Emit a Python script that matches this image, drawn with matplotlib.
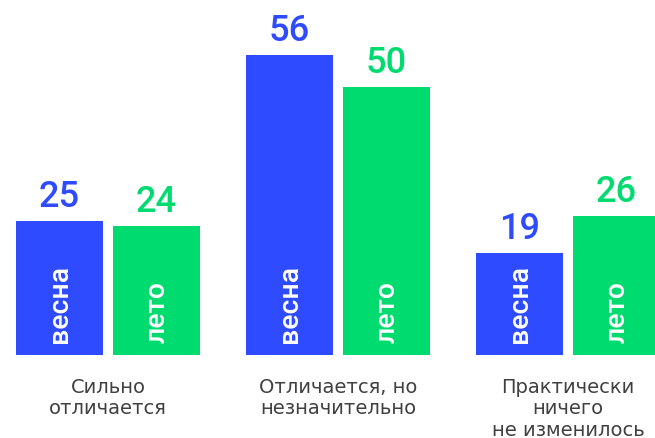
import matplotlib
matplotlib.use("Agg")
import matplotlib.pyplot as plt
import numpy as np

categories = ["Сильно\nотличается", "Отличается, но\nнезначительно", "Практически\nничего\nне изменилось"]
spring = [25, 56, 19]
summer = [24, 50, 26]
series_names = ["весна", "лето"]

BLUE = "#2E4BFF"
GREEN = "#00DB70"

W, H = 655, 439
fig = plt.figure(figsize=(W / 100, H / 100), dpi=100)

base_px = 356
ppu = 5.36
ymax = 66
ax_h = ymax * ppu
ax = fig.add_axes([0, (H - base_px) / H, 1, ax_h / H])
ax.set_ylim(0, ymax)
x0 = 108.0
gs = 230.0
ax.set_xlim(-x0 / gs, (W - x0) / gs)
ax.axis("off")

fam = ["Roboto", "DejaVu Sans"]
fam2 = ["DejaVu Sans"]
x = np.arange(len(categories))
bw = 87 / gs
off = 48.5 / gs

for vals, dx, col, name in [(spring, -off, BLUE, series_names[0]), (summer, off, GREEN, series_names[1])]:
    ax.bar(x + dx, vals, width=bw, color=col)
    for xi, v in zip(x + dx, vals):
        ax.annotate(str(v), (xi, v), xytext=(0, 15), textcoords="offset pixels",
                    ha="center", va="baseline", fontsize=26, color=col,
                    family=fam, fontweight="medium", annotation_clip=False)
        ax.annotate(name, (xi, 0), xytext=(0, 13), textcoords="offset pixels",
                    ha="center", va="bottom", rotation=90, fontsize=20.5,
                    color="white", family=fam, fontweight="medium")

for xi, c in zip(x, categories):
    for i, line in enumerate(c.split("\n")):
        ax.annotate(line, (xi, 0), xytext=(0, -37 - 21.3 * i), textcoords="offset pixels",
                    ha="center", va="baseline", fontsize=14, color="#404040",
                    family=fam2, annotation_clip=False)

fig.savefig("out.png", dpi=100)
